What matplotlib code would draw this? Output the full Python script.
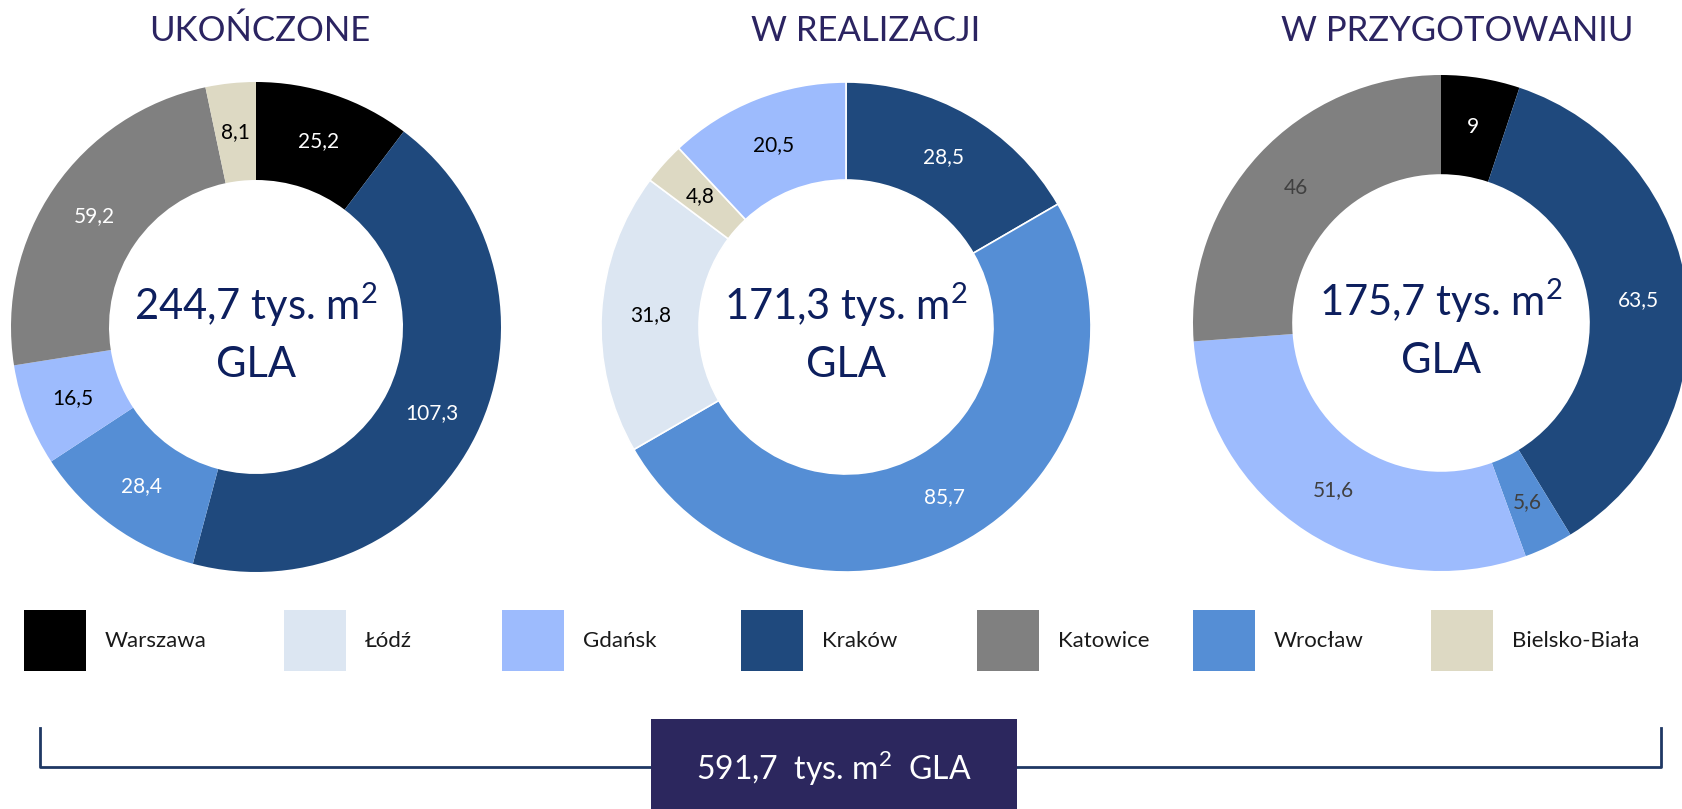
import matplotlib.pyplot as plt
import numpy as np
from matplotlib.patches import Rectangle

plt.rcParams['font.family'] = ['Lato', 'DejaVu Sans']
plt.rcParams['mathtext.fontset'] = 'custom'
plt.rcParams['mathtext.rm'] = 'Lato'

# legend order and colours
cities = ["Warszawa", "Łódź", "Gdańsk", "Kraków", "Katowice", "Wrocław", "Bielsko-Biała"]
city_colors = {
    "Warszawa": "#000000",
    "Łódź": "#DCE6F2",
    "Gdańsk": "#9DBBFD",
    "Kraków": "#1F497D",
    "Katowice": "#808080",
    "Wrocław": "#558ED5",
    "Bielsko-Biała": "#DDD9C3",
}

titles = ["UKOŃCZONE", "W REALIZACJI", "W PRZYGOTOWANIU"]
totals = ["244,7", "171,3", "175,7"]
grand_total = "591,7"

done_cities = ["Warszawa", "Kraków", "Wrocław", "Gdańsk", "Katowice", "Bielsko-Biała"]
done_values = [25.2, 107.3, 28.4, 16.5, 59.2, 8.1]
done_text = ["white", "white", "white", "black", "white", "black"]

building_cities = ["Kraków", "Wrocław", "Łódź", "Bielsko-Biała", "Gdańsk"]
building_values = [28.5, 85.7, 31.8, 4.8, 20.5]
building_text = ["white", "white", "black", "black", "black"]

planned_cities = ["Warszawa", "Kraków", "Wrocław", "Gdańsk", "Katowice"]
planned_values = [9, 63.5, 5.6, 51.6, 46]
planned_text = ["white", "white", "#404040", "#404040", "#404040"]

W, H = 1683, 809
fig = plt.figure(figsize=(W / 100, H / 100), dpi=100)
ax = fig.add_axes([0, 0, 1, 1])

# pixel layout (y measured from top)
centers = [(256, 327), (846, 327), (1441, 323)]
radii = [245, 245, 248]
title_x = [260, 866, 1457]
edges = [0, 1.2, 0]
sup = r"$^{\mathrm{2}}$"

charts = [(done_cities, done_values, done_text),
          (building_cities, building_values, building_text),
          (planned_cities, planned_values, planned_text)]

for i, (cs, vals, tcols) in enumerate(charts):
    cx, cy = centers[i]
    r = radii[i]
    wedges, _ = ax.pie(vals, colors=[city_colors[c] for c in cs], startangle=90,
                       counterclock=False, radius=r, center=(cx, H - cy),
                       wedgeprops=dict(width=0.4 * r, edgecolor='white', linewidth=edges[i]),
                       frame=True)
    for w, v, tc in zip(wedges, vals, tcols):
        ang = np.deg2rad((w.theta1 + w.theta2) / 2)
        rr = w.r - w.width / 2
        lab = f"{v:g}".replace(".", ",")
        ax.text(w.center[0] + rr * np.cos(ang), w.center[1] + rr * np.sin(ang), lab,
                ha='center', va='center', fontsize=15, color=tc)
    ax.text(cx, H - cy + 7, f"{totals[i]} tys. m" + sup, ha='center', va='baseline',
            fontsize=30, color='#0D1F5E')
    ax.text(cx, H - cy - 50, "GLA", ha='center', va='baseline',
            fontsize=30, color='#0D1F5E')
    ax.text(title_x[i], H - 31, titles[i], ha='center', va='center',
            fontsize=25, color='#2B2461')

# legend
leg_x = [24, 284, 502, 741, 977, 1193, 1431]
for c, x in zip(cities, leg_x):
    ax.add_patch(Rectangle((x, H - 671), 62, 61, facecolor=city_colors[c], edgecolor='none'))
    ax.text(x + 81, H - 641, c, ha='left', va='center', fontsize=16, color='#1a1a1a')

# bracket and total box
ax.plot([40, 40, 1661, 1661], [H - 728, H - 767, H - 767, H - 728], color='#1F3864', lw=2)
ax.add_patch(Rectangle((651, 0), 366, H - 719, facecolor='#2C275E', edgecolor='none', zorder=3))
ax.text(834, H - 768, f"{grand_total}  tys. m" + sup + "  GLA", ha='center', va='center',
        fontsize=23, color='white', zorder=4)

ax.set_xlim(0, W)
ax.set_ylim(0, H)
ax.set_aspect('auto')
ax.axis('off')

fig.savefig("out.png", dpi=100)
